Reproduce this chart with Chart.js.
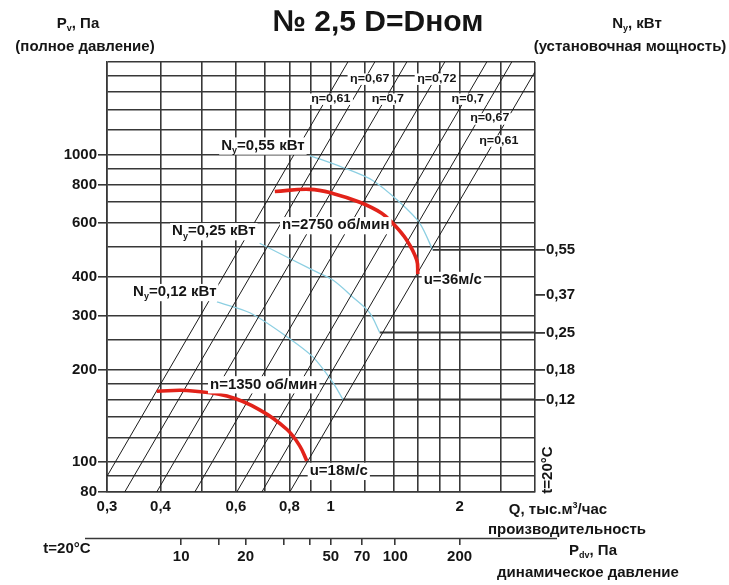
<!DOCTYPE html>
<html>
<head>
<meta charset="utf-8">
<script src="https://cdn.jsdelivr.net/npm/chart.js@4/dist/chart.umd.min.js"></script>
<style>
  html, body { margin: 0; padding: 0; background: #fff; }
  #wrap { width: 729px; height: 585px; }
</style>
</head>
<body>
<div id="wrap"><canvas id="fan" width="729" height="585"></canvas></div>
<script>
// Flow rate Q, thousand m³/h: grid lines and labelled ticks
const qGrid = [0.3, 0.4, 0.5, 0.6, 0.7, 0.8, 0.9, 1, 1.2, 1.4, 1.6, 1.8, 2, 2.5, 3];
const qTickText = { 0.3: '0,3', 0.4: '0,4', 0.6: '0,6', 0.8: '0,8', 1: '1', 2: '2' };

// Total pressure Pv, Pa: grid lines and labelled ticks
const pGrid = [80, 90, 100, 120, 140, 160, 180, 200, 250, 300, 400, 500, 600, 700, 800, 900, 1000, 1200, 1400, 1600, 1800, 2000];
const pTickText = { 80: '80', 100: '100', 200: '200', 300: '300', 400: '400', 600: '600', 800: '800', 1000: '1000' };

// Dynamic pressure Pdv, Pa (Pdv = PDV_AT_Q1 * Q²)
const PDV_AT_Q1 = 50;
const pdvTicks = [10, 15, 20, 30, 40, 50, 70, 100, 200];
const pdvTickText = { 10: '10', 20: '20', 50: '50', 70: '70', 100: '100', 200: '200' };

// Installed motor power Ny, kW, on the right-hand scale (level in Pa)
const nyLevelsP = [160, 200, 264, 350, 490];
const nyLevelsText = ['0,12', '0,18', '0,25', '0,37', '0,55'];

// Fan curves, n = 2750 and n = 1350 rpm
const n2750Q = [0.740, 0.893, 1.011, 1.169, 1.315, 1.396, 1.505, 1.588, 1.597];
const n2750P = [759, 771, 748, 700, 645, 598, 527, 454, 409];
const n1350Q = [0.392, 0.461, 0.572, 0.682, 0.789, 0.846, 0.879];
const n1350P = [170, 171, 164, 148, 128, 113, 101];

// Power lines Ny = 0,55 / 0,25 / 0,12 kW
const ny055Q = [0.893, 1.067, 1.253, 1.449, 1.614, 1.730];
const ny055P = [993, 908, 824, 700, 598, 490];
const ny025Q = [0.682, 0.908, 1.011, 1.126, 1.233, 1.301];
const ny025P = [515, 421, 391, 344, 306, 264];
const ny012Q = [0.542, 0.647, 0.789, 0.908, 1.010, 1.067];
const ny012P = [332, 306, 256, 220, 182, 160];

// Constant-efficiency rays (start and end of each line)
const etaText = ['η=0,61', 'η=0,67', 'η=0,7', 'η=0,72', 'η=0,7', 'η=0,67', 'η=0,61'];
const rayStartQ = [0.300, 0.330, 0.392, 0.481, 0.603, 0.690, 0.802];
const rayStartP = [90, 80, 80, 80, 80, 80, 80];
const rayEndQ = [1.096, 1.267, 1.505, 1.846, 2.314, 2.647, 3.0];
const rayEndP = [2000, 2000, 2000, 2000, 2000, 2000, 1862];
// where each ray carries its efficiency label
const etaLabelQ = [1.0, 1.233, 1.359, 1.769, 2.089, 2.352, 2.47];
const etaLabelP = [1517, 1762, 1517, 1762, 1517, 1308, 1109];

const FONT = '"Liberation Sans", Arial, sans-serif';
const INK = '#151515';
const GRID = '#383838';

const pts = (qs, ps) => qs.map((q, i) => ({ x: q, y: ps[i] }));

const datasets = [];
datasets.push({ data: pts(n2750Q, n2750P), borderColor: '#e2231a', borderWidth: 3.6, tension: 0.4, order: 1 });
datasets.push({ data: pts(n1350Q, n1350P), borderColor: '#e2231a', borderWidth: 3.6, tension: 0.4, order: 1 });
[[ny055Q, ny055P], [ny025Q, ny025P], [ny012Q, ny012P]].forEach(([q, p]) => {
  datasets.push({ data: pts(q, p), borderColor: '#8ccfe2', borderWidth: 1.3, tension: 0.3, order: 3 });
  // level line carried from the end of the power curve to the Ny scale
  const last = q.length - 1;
  datasets.push({ data: [{ x: q[last], y: p[last] }, { x: 3, y: p[last] }], borderColor: GRID, borderWidth: 1.8, order: 4 });
});
rayStartQ.forEach((q, i) => {
  datasets.push({ data: [{ x: q, y: rayStartP[i] }, { x: rayEndQ[i], y: rayEndP[i] }], borderColor: '#1b1b1b', borderWidth: 1, order: 2 });
});

// Text with sub/superscripts: parts = [[text, 'sub'|'sup'|undefined], ...]
function rich(ctx, parts, x, y, size, align, bg, weight) {
  const w8 = weight || 'bold';
  const f = (s) => `${w8} ${s}px ${FONT}`;
  const widths = [];
  let total = 0;
  parts.forEach(([t, m]) => {
    ctx.font = f(m ? Math.round(size * 0.62) : size);
    const w = ctx.measureText(t).width;
    widths.push(w);
    total += w;
  });
  let sx = align === 'center' ? x - total / 2 : align === 'right' ? x - total : x;
  if (bg) {
    ctx.fillStyle = '#fff';
    ctx.fillRect(sx - 2, y - size * 0.55, total + 4, size * 1.15);
  }
  ctx.fillStyle = INK;
  ctx.textBaseline = 'middle';
  ctx.textAlign = 'left';
  parts.forEach(([t, m], i) => {
    ctx.font = f(m ? Math.round(size * 0.62) : size);
    const dy = m === 'sub' ? size * 0.32 : m === 'sup' ? -size * 0.32 : 0;
    ctx.fillText(t, sx, y + dy);
    sx += widths[i];
  });
}

const notesPlugin = {
  id: 'notes',
  afterDatasetsDraw(chart) {
    const { ctx, scales } = chart;
    const X = (q) => scales.x.getPixelForValue(q);
    const Y = (p) => scales.y.getPixelForValue(p);
    ctx.save();
    // labels inside the plot, placed at (Q, Pv)
    const inPlot = [
      [0.694, 1069, [['N'], ['y', 'sub'], ['=0,55 кВт']]],
      [0.533, 563, [['N'], ['y', 'sub'], ['=0,25 кВт']]],
      [0.432, 357, [['N'], ['y', 'sub'], ['=0,12 кВт']]],
      [1.027, 589, [['n=2750 об/мин']]],
      [0.697, 179, [['n=1350 об/мин']]],
      [1.928, 391, [['u=36м/с']]],
      [1.044, 93.6, [['u=18м/с']]]
    ];
    inPlot.forEach(([q, p, parts]) => rich(ctx, parts, X(q), Y(p), 15, 'center', true));
    // efficiency marks: small, widened type
    etaText.forEach((t, i) => {
      ctx.save();
      ctx.translate(X(etaLabelQ[i]), Y(etaLabelP[i]));
      ctx.scale(1.25, 1);
      rich(ctx, [[t]], 0, 0, 10, 'center', true, 'bold');
      ctx.restore();
    });
    ctx.restore();
  },
  afterDraw(chart) {
    const { ctx, scales, chartArea } = chart;
    ctx.save();
    // dynamic pressure axis line
    const ly = Math.round(scales.xdv.top) + 0.5;
    ctx.strokeStyle = GRID;
    ctx.lineWidth = 1.6;
    ctx.beginPath();
    ctx.moveTo(chartArea.left - 22, ly);
    ctx.lineTo(chartArea.right + 22, ly);
    ctx.stroke();

    rich(ctx, [['№ 2,5 D=Dном']], 378, 23, 30, 'center');
    rich(ctx, [['P'], ['v', 'sub'], [', Па']], 78, 24, 15, 'center');
    rich(ctx, [['(полное давление)']], 85, 47, 15, 'center');
    rich(ctx, [['N'], ['y', 'sub'], [', кВт']], 637, 24, 15, 'center');
    rich(ctx, [['(установочная мощность)']], 630, 47, 15, 'center');
    rich(ctx, [['Q, тыс.м'], ['3', 'sup'], ['/час']], 558, 510, 15, 'center');
    rich(ctx, [['производительность']], 567, 530, 15, 'center');
    rich(ctx, [['P'], ['dv', 'sub'], [', Па']], 593, 551, 15, 'center');
    rich(ctx, [['динамическое давление']], 588, 573, 15, 'center');
    rich(ctx, [['t=20°C']], 67, 549, 15, 'center');
    ctx.translate(548, 470);
    ctx.rotate(-Math.PI / 2);
    rich(ctx, [['t=20°C']], 0, 0, 15, 'center');
    ctx.restore();
  }
};

const tickFont = { family: FONT, size: 15, weight: 'bold' };

new Chart(document.getElementById('fan'), {
  type: 'scatter',
  data: { datasets },
  options: {
    responsive: false,
    animation: false,
    devicePixelRatio: 1,
    layout: { padding: { top: 62, left: 0, right: 0, bottom: 0 } },
    plugins: { legend: { display: false }, tooltip: { enabled: false } },
    elements: { point: { radius: 0 } },
    showLine: true,
    scales: {
      x: {
        type: 'logarithmic', position: 'bottom', weight: 0, bounds: 'data',
        min: 0.3, max: 3,
        afterBuildTicks: (s) => { s.ticks = qGrid.map((v) => ({ value: v })); },
        afterFit: (s) => { s.height = 46; },
        grid: { color: GRID, lineWidth: 1.6, drawTicks: false },
        border: { color: GRID, width: 1.6 },
        ticks: {
          autoSkip: false, maxRotation: 0, padding: 6, color: INK, font: tickFont,
          callback: (v) => qTickText[v] || ''
        }
      },
      xdv: {
        type: 'logarithmic', position: 'bottom', weight: 1, bounds: 'data',
        min: PDV_AT_Q1 * 0.3 * 0.3, max: PDV_AT_Q1 * 3 * 3,
        afterBuildTicks: (s) => { s.ticks = pdvTicks.map((v) => ({ value: v })); },
        afterFit: (s) => { s.height = 47; },
        grid: { drawOnChartArea: false, color: GRID, lineWidth: 1.6, tickLength: 7 },
        border: { display: false },
        ticks: {
          autoSkip: false, maxRotation: 0, padding: 3, color: INK, font: tickFont,
          callback: (v) => pdvTickText[v] || ''
        }
      },
      y: {
        type: 'logarithmic', position: 'left', bounds: 'data',
        min: 80, max: 2000,
        afterBuildTicks: (s) => { s.ticks = pGrid.map((v) => ({ value: v })); },
        afterFit: (s) => { s.width = 107; },
        grid: {
          color: GRID, lineWidth: 1.6, tickLength: 9,
          tickColor: (c) => (c.tick && pTickText[c.tick.value] ? GRID : 'rgba(0,0,0,0)')
        },
        border: { color: GRID, width: 1.6 },
        ticks: {
          autoSkip: false, padding: 1, color: INK, font: tickFont,
          callback: (v) => pTickText[v] || ''
        }
      },
      yn: {
        type: 'logarithmic', position: 'right', bounds: 'data',
        min: 80, max: 2000,
        afterBuildTicks: (s) => { s.ticks = nyLevelsP.map((v) => ({ value: v })); },
        afterFit: (s) => { s.width = 194; },
        grid: { drawOnChartArea: false, color: GRID, lineWidth: 1.8, tickLength: 10 },
        border: { display: false },
        ticks: {
          autoSkip: false, padding: 1, color: INK, font: tickFont,
          callback: (v) => { const i = nyLevelsP.indexOf(v); return i >= 0 ? nyLevelsText[i] : ''; }
        }
      }
    }
  },
  plugins: [notesPlugin]
});
</script>
</body>
</html>
